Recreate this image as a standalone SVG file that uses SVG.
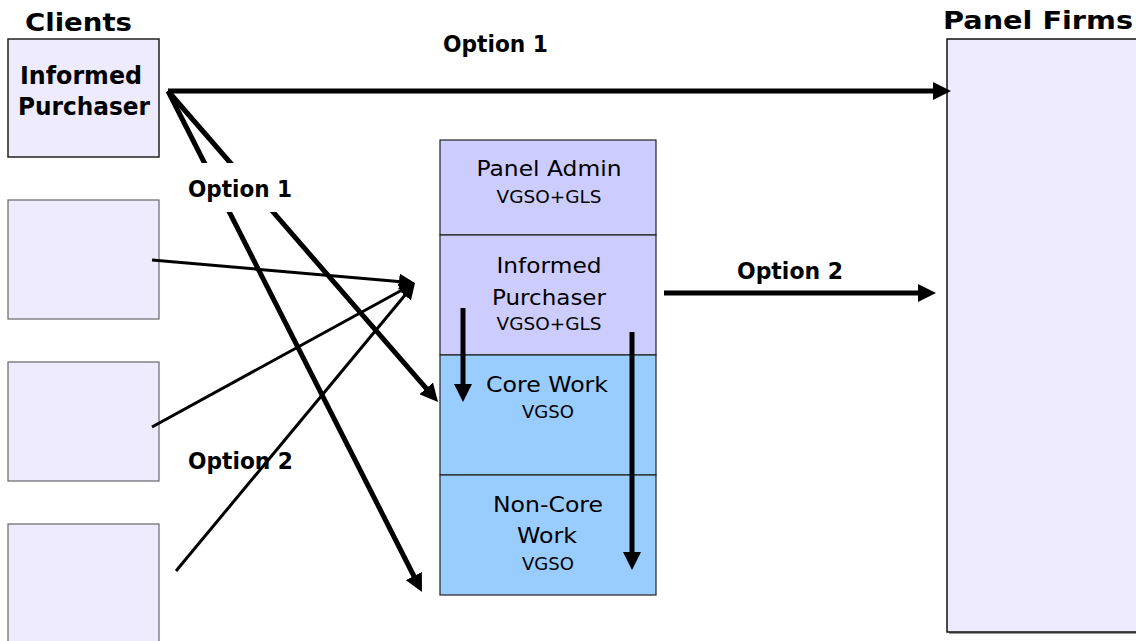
<svg xmlns="http://www.w3.org/2000/svg" width="1136" height="641" viewBox="0 0 1136 641">
<style>
.client{fill:#EEEBFF;stroke:#666;stroke-width:1.2}
.c1{stroke:#222;stroke-width:1.5}
.firms{fill:#EEEBFF;stroke:#111;stroke-width:1.5}
.upper{fill:#CCCCFF;stroke:#222;stroke-width:1.2}
.lower{fill:#99CCFF;stroke:#222;stroke-width:1.2}
.hd{font-family:"DejaVu Sans","Verdana",sans-serif;font-weight:bold;font-size:24px;fill:#000}
.lb{font-family:"DejaVu Sans","Verdana",sans-serif;font-weight:bold;font-size:23px;fill:#000}
.tx{font-family:"DejaVu Sans","Verdana",sans-serif;font-size:21px;fill:#000;text-anchor:middle}
.sm{font-family:"DejaVu Sans","Verdana",sans-serif;font-size:17px;fill:#000;text-anchor:middle}
.thick{stroke:#000;stroke-width:5;fill:none;marker-end:url(#ah)}
.thin{stroke:#000;stroke-width:3;fill:none;marker-end:url(#ahs)}
</style>
<defs>
<marker id="ah" markerUnits="userSpaceOnUse" markerWidth="18" markerHeight="18" refX="9" refY="9" orient="auto">
<path d="M0,0 L18,9 L0,18 z" fill="#000"/>
</marker>
<marker id="ahs" markerUnits="userSpaceOnUse" markerWidth="16" markerHeight="16" refX="8" refY="8" orient="auto">
<path d="M0,0 L16,8 L0,16 z" fill="#000"/>
</marker>
</defs>
<rect width="1136" height="641" fill="#fff"/>

<text class="hd" x="25" y="31" textLength="107" lengthAdjust="spacingAndGlyphs">Clients</text>
<text class="hd" x="943" y="29" textLength="190" lengthAdjust="spacingAndGlyphs">Panel Firms</text>

<g id="client1">
<rect class="client c1" x="8" y="39" width="151" height="118"/>
<text class="hd" x="81" y="84" text-anchor="middle" textLength="122" lengthAdjust="spacingAndGlyphs">Informed</text>
<text class="hd" x="84" y="115" text-anchor="middle" textLength="132" lengthAdjust="spacingAndGlyphs">Purchaser</text>
</g>
<g id="client2"><rect class="client" x="8" y="200" width="151" height="119"/></g>
<g id="client3"><rect class="client" x="8" y="362" width="151" height="119"/></g>
<g id="client4"><rect class="client" x="8" y="524" width="151" height="130"/></g>

<g id="panel-firms">
<rect x="949" y="41" width="200" height="593" fill="#999"/>
<rect class="firms" x="947" y="39" width="200" height="593"/>
</g>

<g id="panel-admin">
<rect class="upper" x="440" y="140" width="216" height="95"/>
<text class="tx" x="549" y="176" textLength="145" lengthAdjust="spacingAndGlyphs">Panel Admin</text>
<text class="sm" x="549" y="203" textLength="105" lengthAdjust="spacingAndGlyphs">VGSO+GLS</text>
</g>
<g id="informed-purchaser">
<rect class="upper" x="440" y="235" width="216" height="120"/>
<text class="tx" x="549" y="273" textLength="105" lengthAdjust="spacingAndGlyphs">Informed</text>
<text class="tx" x="549" y="305" textLength="114" lengthAdjust="spacingAndGlyphs">Purchaser</text>
<text class="sm" x="549" y="330" textLength="105" lengthAdjust="spacingAndGlyphs">VGSO+GLS</text>
</g>
<g id="core-work">
<rect class="lower" x="440" y="355" width="216" height="120"/>
<text class="tx" x="547" y="392" textLength="122" lengthAdjust="spacingAndGlyphs">Core Work</text>
<text class="sm" x="548" y="418" textLength="52" lengthAdjust="spacingAndGlyphs">VGSO</text>
</g>
<g id="non-core-work">
<rect class="lower" x="440" y="475" width="216" height="120"/>
<text class="tx" x="548" y="512" textLength="110" lengthAdjust="spacingAndGlyphs">Non-Core</text>
<text class="tx" x="547" y="543" textLength="60" lengthAdjust="spacingAndGlyphs">Work</text>
<text class="sm" x="548" y="570" textLength="52" lengthAdjust="spacingAndGlyphs">VGSO</text>
</g>

<text class="lb" x="188" y="469" textLength="105" lengthAdjust="spacingAndGlyphs">Option 2</text>

<g id="connectors">
<line class="thick" x1="168" y1="91" x2="942" y2="91"/>
<line class="thick" x1="168" y1="91" x2="417.9" y2="584"/>
<line class="thick" x1="168" y1="91" x2="432.1" y2="395.2"/>
<line class="thin" x1="152" y1="260" x2="407" y2="282.3"/>
<line class="thin" x1="152" y1="427" x2="408" y2="286.8"/>
<line class="thin" x1="176" y1="571" x2="409.9" y2="289.2"/>
<line class="thick" x1="664" y1="293" x2="927" y2="293"/>
<line class="thick" x1="463" y1="308" x2="463" y2="393"/>
<line class="thick" x1="632" y1="332" x2="632" y2="561"/>
</g>

<g id="labels">
<rect x="182" y="163" width="120" height="49" fill="#fff"/>
<text class="lb" x="188" y="197" textLength="104" lengthAdjust="spacingAndGlyphs">Option 1</text>
<text class="lb" x="443" y="52" textLength="105" lengthAdjust="spacingAndGlyphs">Option 1</text>
<text class="lb" x="737" y="279" textLength="106" lengthAdjust="spacingAndGlyphs">Option 2</text>
</g>
</svg>
